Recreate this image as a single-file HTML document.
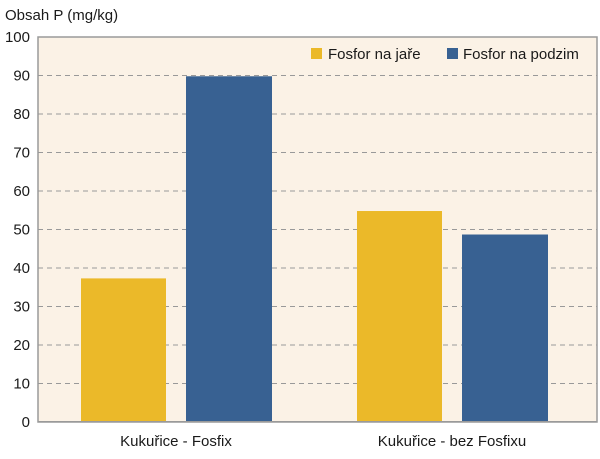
<!DOCTYPE html>
<html><head><meta charset="utf-8"><style>
body{margin:0;background:#fff;width:600px;height:454px;overflow:hidden}
text{font-family:"Liberation Sans",sans-serif;fill:#1a1a1a}
</style></head><body>
<svg id="chart" width="600" height="454" xmlns="http://www.w3.org/2000/svg">
<text x="5" y="20" font-size="15">Obsah P (mg/kg)</text>
<rect x="38" y="37" width="559" height="385" fill="#fbf2e6" stroke="#9a9a9a" stroke-width="1.5"/>
<g id="grid"></g><g id="bars"></g><g id="yticks"></g><g id="xlabels"></g>
<rect x="38" y="421" width="559" height="1.5" fill="#9a9a9a"/>
<g>
<rect x="311" y="48" width="11" height="11" fill="#ebb929"/>
<text x="328" y="59" font-size="15">Fosfor na jaře</text>
<rect x="447" y="48" width="11" height="11" fill="#386192"/>
<text x="463" y="59" font-size="15">Fosfor na podzim</text>
</g>
</svg>
<script>
const categories=["Kukuřice - Fosfix","Kukuřice - bez Fosfixu"];
const springValues=[37.3,54.8];
const autumnValues=[89.8,48.7];
const yTicks=[0,10,20,30,40,50,60,70,80,90,100];
const NS="http://www.w3.org/2000/svg";
const y=v=>422-v*3.85;
const groupCenter=i=>176+i*276;
function mk(tag,attrs,parent){const e=document.createElementNS(NS,tag);for(const k in attrs)e.setAttribute(k,attrs[k]);document.getElementById(parent).appendChild(e);return e;}
yTicks.forEach(t=>{
  if(t>0&&t<100){const l=mk('line',{x1:38,x2:597,y1:y(t),y2:y(t),stroke:'#999','stroke-dasharray':'5,4','stroke-width':1},'grid');
  
  }
  const tx=mk('text',{x:30,y:y(t)+5,'font-size':15,'text-anchor':'end'},'yticks');tx.textContent=t;
  
  
});
categories.forEach((c,i)=>{
  const cx=groupCenter(i);
  const b1=mk('rect',{x:cx-95,y:y(springValues[i]),width:85,height:springValues[i]*3.85,fill:'#ebb929'},'bars');
  
  
  const b2=mk('rect',{x:cx+10,y:y(autumnValues[i]),width:86,height:autumnValues[i]*3.85,fill:'#386192'},'bars');
  
  
  const t=mk('text',{x:cx,y:446,'font-size':15,'text-anchor':'middle'},'xlabels');t.textContent=c;
  
  
});
</script>
</body></html>
